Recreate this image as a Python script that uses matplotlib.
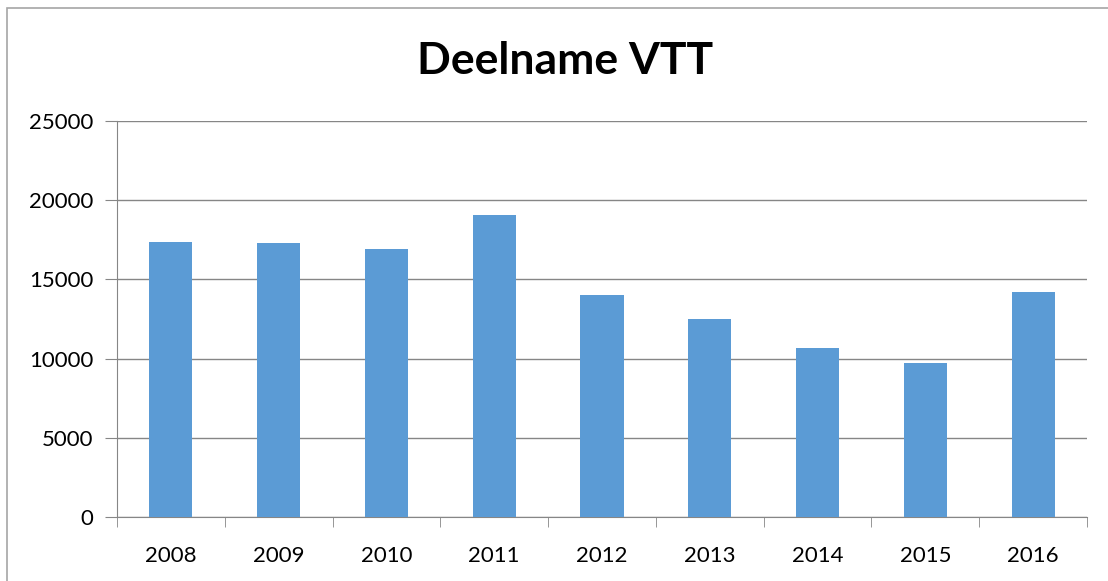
import matplotlib.pyplot as plt
from matplotlib.patches import Rectangle
import numpy as np

years = ['2008', '2009', '2010', '2011', '2012', '2013', '2014', '2015', '2016']
participants = [17390, 17270, 16910, 19090, 14030, 12530, 10680, 9750, 14220]
y_ticks = [0, 5000, 10000, 15000, 20000, 25000]

plt.rcParams['font.family'] = ['Lato', 'DejaVu Sans']

fig = plt.figure(figsize=(11.08, 5.81), dpi=100)
ax = fig.add_axes([117 / 1108, 64 / 581, 970 / 1108, 396 / 581])

x = np.arange(len(years))
ax.bar(x, participants, width=0.4, color='#5B9BD5', zorder=3)

ax.set_xlim(-0.5, len(years) - 0.5)
ax.set_ylim(0, 25000)
ax.set_yticks(y_ticks)
ax.grid(axis='y', color='#868686', linewidth=1, zorder=0)

# category labels centred, tick marks between categories
ax.set_xticks(x)
ax.set_xticklabels(years, fontsize=16)
ax.tick_params(axis='x', which='major', length=0, pad=21)
ax.set_xticks(np.arange(-0.5, len(years)), minor=True)
ax.tick_params(axis='x', which='minor', length=7, color='#868686', direction='out')
ax.tick_params(axis='y', length=9, color='#868686', labelsize=16, pad=8)

for side in ['top', 'right']:
    ax.spines[side].set_visible(False)
for side in ['left', 'bottom']:
    ax.spines[side].set_color('#868686')

fig.text(565 / 1108, 1 - 61 / 581, 'Deelname VTT', ha='center', va='center',
         fontsize=32, fontweight='bold')

# outer chart border
fig.patches.append(Rectangle((7 / 1108, -0.1), 1.2, 1 - 7.5 / 581 + 0.1,
                             transform=fig.transFigure, fill=False,
                             edgecolor='#A6A6A6', linewidth=1.2))

fig.savefig('out.png', dpi=100)
